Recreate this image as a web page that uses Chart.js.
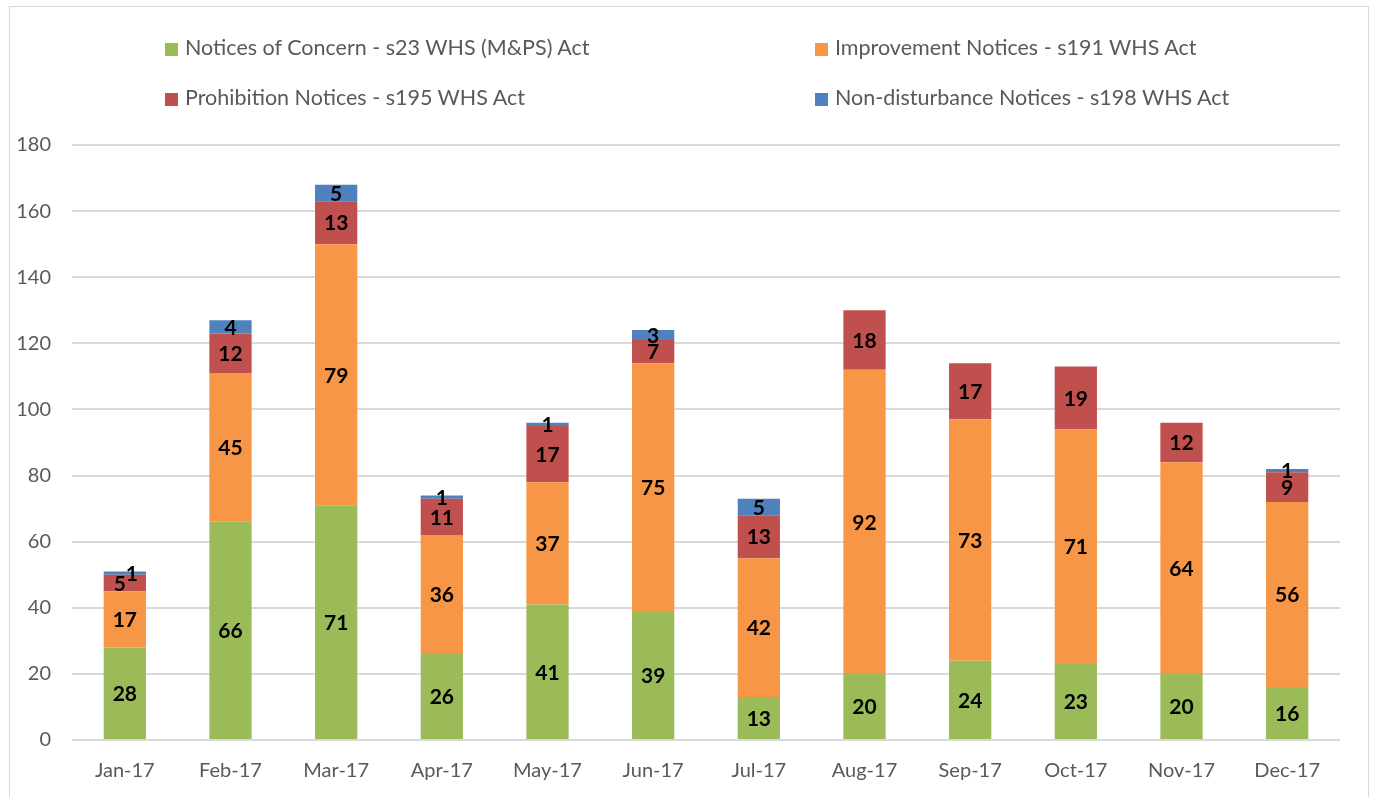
<!DOCTYPE html>
<html lang="en">
<head>
  <meta charset="UTF-8">
  <title>Notices issued 2017</title>
  <style>
    html, body { margin: 0; padding: 0; background: #fff; }
    #wrap { position: relative; width: 1373px; height: 797px; overflow: hidden; }
    #frame {
      position: absolute; left: 9px; top: 6px; width: 1360px; height: 800px;
      border: 1px solid #d9d9d9; box-sizing: border-box; pointer-events: none;
    }
    canvas { position: absolute; left: 0; top: 0; }
    .legend-item {
      position: absolute; font-family: Lato, "Noto Sans", sans-serif; font-size: 21.5px;
      color: #595959; white-space: nowrap; line-height: 24px;
    }
    .legend-item i {
      display: inline-block; width: 13px; height: 13px; margin-right: 7px; vertical-align: -1px;
    }
  </style>
</head>
<body>
  <div id="wrap">
    <canvas id="myChart" width="1373" height="797"></canvas>
    <div id="legend"></div>
    <div id="frame"></div>
  </div>

  <script src="https://cdn.jsdelivr.net/npm/chart.js"></script>
  <script>
    const months = ['Jan-17', 'Feb-17', 'Mar-17', 'Apr-17', 'May-17', 'Jun-17',
                    'Jul-17', 'Aug-17', 'Sep-17', 'Oct-17', 'Nov-17', 'Dec-17'];
    const concern      = [28, 66, 71, 26, 41, 39, 13, 20, 24, 23, 20, 16];
    const improvement  = [17, 45, 79, 36, 37, 75, 42, 92, 73, 71, 64, 56];
    const prohibition  = [5, 12, 13, 11, 17, 7, 13, 18, 17, 19, 12, 9];
    const nonDisturb   = [1, 4, 5, 1, 1, 3, 5, 0, 0, 0, 0, 1];
    const yTicks = [0, 20, 40, 60, 80, 100, 120, 140, 160, 180];

    const series = [
      { label: 'Notices of Concern - s23 WHS (M&PS) Act', data: concern, color: '#9bbb59' },
      { label: 'Improvement Notices - s191 WHS Act', data: improvement, color: '#f79646' },
      { label: 'Prohibition Notices - s195 WHS Act', data: prohibition, color: '#c0504d' },
      { label: 'Non-disturbance Notices - s198 WHS Act', data: nonDisturb, color: '#4f81bd' }
    ];

    // legend in two columns, like the original
    const legendPos = [[165, 35], [815, 35], [165, 85], [815, 85]];
    const legend = document.getElementById('legend');
    series.forEach((s, i) => {
      const el = document.createElement('div');
      el.className = 'legend-item';
      el.style.left = legendPos[i][0] + 'px';
      el.style.top = legendPos[i][1] + 'px';
      el.innerHTML = '<i style="background:' + s.color + '"></i>' + s.label;
      legend.appendChild(el);
    });

    const font = 'Lato, "Noto Sans", sans-serif';

    const valueLabels = {
      id: 'valueLabels',
      afterDatasetsDraw(chart) {
        const ctx = chart.ctx;
        ctx.save();
        ctx.font = 'bold 21px ' + font;
        ctx.fillStyle = '#000';
        ctx.textAlign = 'center';
        ctx.textBaseline = 'middle';
        const n = chart.data.labels.length;
        for (let i = 0; i < n; i++) {
          // collect labels of this bar, then nudge sideways when two collide
          const items = [];
          chart.data.datasets.forEach((ds, di) => {
            const v = ds.data[i];
            if (!v) return;
            const bar = chart.getDatasetMeta(di).data[i];
            items.push({ text: String(v), x: bar.x, y: (bar.y + bar.base) / 2 + 1 });
          });
          for (let k = 1; k < items.length; k++) {
            if (Math.abs(items[k].y - items[k - 1].y) < 16) {
              items[k].x += 7;
              items[k - 1].x -= 5;
            }
          }
          items.forEach(it => ctx.fillText(it.text, it.x, it.y));
        }
        ctx.restore();
      }
    };

    const ctx = document.getElementById('myChart').getContext('2d');
    new Chart(ctx, {
      type: 'bar',
      data: {
        labels: months,
        datasets: series.map(s => ({
          label: s.label,
          data: s.data,
          backgroundColor: s.color,
          borderWidth: 0,
          barPercentage: 0.4,
          categoryPercentage: 1
        }))
      },
      options: {
        responsive: false,
        animation: false,
        layout: { padding: { top: 145, right: 33, bottom: 0, left: 0 } },
        plugins: {
          legend: { display: false },
          tooltip: { enabled: false }
        },
        scales: {
          x: {
            stacked: true,
            grid: { display: false, drawTicks: false },
            border: { display: false },
            ticks: {
              color: '#595959', padding: 19,
              font: { family: font, size: 20 }
            },
            afterFit(scale) { scale.height = 57; }
          },
          y: {
            stacked: true,
            min: 0, max: 180,
            afterBuildTicks(scale) { scale.ticks = yTicks.map(v => ({ value: v })); },
            grid: { color: '#d9d9d9', lineWidth: 2, drawTicks: false },
            border: { display: false },
            ticks: {
              color: '#595959', padding: 21,
              font: { family: font, size: 20 }
            },
            afterFit(scale) { scale.width = 72; }
          }
        }
      },
      plugins: [valueLabels]
    });
  </script>
</body>
</html>
